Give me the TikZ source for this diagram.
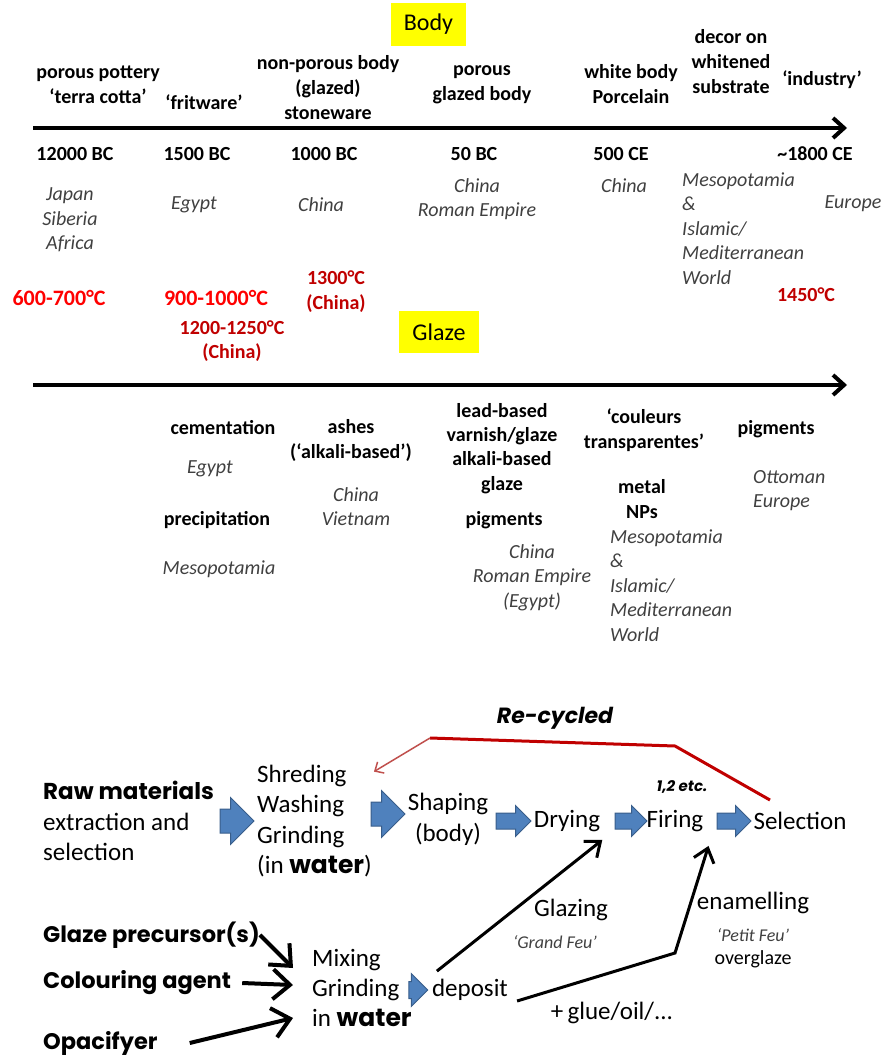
\documentclass[tikz,border=0pt]{standalone}
\usepackage{fontspec}
\setmainfont{Carlito}
\newfontfamily\hand{Poppins}
\usetikzlibrary{arrows.meta,shapes.arrows,positioning,calc}
\definecolor{hdryellow}{HTML}{FFFF00}
\definecolor{tempred}{HTML}{FF0000}
\definecolor{darkred}{HTML}{C00000}
\definecolor{placegray}{HTML}{404040}
\definecolor{arrowblue}{HTML}{4F81BD}
\definecolor{arrowedge}{HTML}{385D8A}
\definecolor{cyclered}{HTML}{C0504D}

\begin{document}
\begin{tikzpicture}[x=1pt,y=-1pt,inner sep=0,
    hdr/.style={fill=hdryellow,minimum width=75,minimum height=43,font=\fontsize{24}{28}\selectfont},
    era/.style={font=\fontsize{20}{25}\selectfont\bfseries,align=center},
    date/.style={font=\fontsize{20}{25}\selectfont\bfseries},
    place/.style={font=\fontsize{20}{24.5}\selectfont\itshape,text=placegray,align=center},
    temp/.style={font=\fontsize{22}{25}\selectfont\bfseries,text=tempred,align=center},
    tempcn/.style={font=\fontsize{20}{24.5}\selectfont\bfseries,text=darkred,align=center},
    stage/.style={font=\fontsize{25}{30.5}\selectfont,align=left},
    handlabel/.style={font=\fontsize{22.5}{24}\selectfont\hand\bfseries},
    note/.style={font=\fontsize{18}{22}\selectfont\itshape,text=placegray},
    timeline/.style={line width=4,-{Straight Barb[length=11pt,width=20pt]}},
    feed/.style={line width=4,-{Straight Barb[length=17pt,width=30pt]}},
    glazeline/.style={line width=3,-{Straight Barb[length=13pt,width=21pt]}},
    blockarrow/.style={single arrow,draw=arrowedge,line width=1,fill=arrowblue,
                       inner xsep=0,single arrow head indent=0}]

  \useasboundingbox (0,0) rectangle (884,1059);

  % Body
  \node[hdr] (body) at (428.5,24.5) {Body};
  \coordinate (bodystart) at (33,128);
  \coordinate (bodyend) at (847,128);
  \draw[timeline] (bodystart) -- (bodyend);

  \node[era] (terracotta) at (98,84.5) {porous pottery\\‘terra cotta’};
  \node[era] (fritware) at (204,102) {‘fritware’};
  \node[era] (stoneware) at (328,88) {non-porous body\\(glazed)\\stoneware};
  \node[era] (glazedbody) at (482,84.5) {porous\\glazed body};
  \node[era] (porcelain) at (631,84.5) {white body\\Porcelain};
  \node[era] (decor) at (731,62) {decor on\\whitened\\substrate};
  \node[era] (industry) at (822,80) {‘industry’};

  \node[date] (bc12000) at (75,154) {12000 BC};
  \node[date] (bc1500) at (197,154) {1500 BC};
  \node[date] (bc1000) at (324,154) {1000 BC};
  \node[date] (bc50) at (474,154) {50 BC};
  \node[date] (ce500) at (621,154) {500 CE};
  \node[date] (ce1800) at (815,154) {\textasciitilde1800 CE};

  \node[place] (japan) at (70,220) {Japan\\Siberia\\Africa};
  \node[place] (egyptbody) at (194,205) {Egypt};
  \node[place] (chinabody) at (321,205) {China};
  \node[place] (roman) at (477,199) {China\\Roman Empire};
  \node[place] (chinaporc) at (624,186) {China};
  \node[place,align=left,anchor=west] (mesobody) at (682,228.5) {Mesopotamia\\\&\\Islamic/\\Mediterranean\\World};
  \node[place] (europebody) at (853,204) {Europe};

  \node[temp] (t600) at (59,298) {600-700°C};
  \node[temp] (t900) at (216,298) {900-1000°C};
  \node[tempcn] (t1200) at (232,341) {1200-1250°C\\(China)};
  \node[tempcn] (t1300) at (336,291.5) {1300°C\\(China)};
  \node[tempcn] (t1450) at (806,295) {1450°C};

  % Glaze
  \node[hdr,minimum width=80,minimum height=42] (glaze) at (439,332) {Glaze};
  \coordinate (glazestart) at (33,385);
  \coordinate (glazeend) at (847,385);
  \draw[timeline] (glazestart) -- (glazeend);

  \node[era] (cement) at (223,428) {cementation};
  \node[place] (egyptglaze) at (210,469) {Egypt};
  \node[era] (precip) at (217,520) {precipitation};
  \node[place] (mesoprecip) at (219,569) {Mesopotamia};
  \node[era] (ashes) at (351,440.5) {ashes\\(‘alkali-based’)};
  \node[place] (vietnam) at (356,506.5) {China\\Vietnam};
  \node[era,font=\fontsize{20}{24.3}\selectfont\bfseries] (lead) at (502,448.5) {lead-based\\varnish/glaze\\alkali-based\\glaze};
  \node[era] (pigearly) at (504,520) {pigments};
  \node[place] (romanglaze) at (532,577.5) {China\\Roman Empire\\(Egypt)};
  \node[era] (couleurs) at (644,430.5) {‘couleurs\\transparentes’};
  \node[era] (metal) at (642,499.5) {metal\\NPs};
  \node[place,align=left,anchor=west] (mesoglaze) at (610,585.5) {Mesopotamia\\\&\\Islamic/\\Mediterranean\\World};
  \node[era] (piglate) at (776,429) {pigments};
  \node[place,align=left,anchor=west] (ottoman) at (753,490.5) {Ottoman\\Europe};

  % process
  \node[handlabel,font=\fontsize{22}{24}\selectfont\hand\bfseries\itshape] (recycled) at (555,718) {Re-cycled};
  \node[stage,anchor=west] (raw) at (43,821) {{\hand\bfseries\fontsize{23}{24}\selectfont Raw materials}\\extraction and\\selection};
  \node[stage,anchor=west] (shred) at (257,821) {Shreding\\Washing\\Grinding\\(in {\hand\bfseries water})};
  \node[stage,align=center] (shaping) at (448,819.5) {Shaping\\(body)};
  \node[stage] (drying) at (567,821) {Drying};
  \node[stage] (firing) at (675,821) {Firing};
  \node[font=\fontsize{15}{18}\selectfont\hand\bfseries\itshape] (firings) at (682,787) {1,2 etc.};
  \node[stage] (selection) at (800,821) {Selection};

  \node[blockarrow,minimum height=34,inner ysep=11.5,single arrow head extend=11.5] (ba1) at (231,821) {};
  \node[blockarrow,minimum height=34,inner ysep=11.5,single arrow head extend=11.5] (ba2) at (382,814) {};
  \node[blockarrow,minimum height=35,inner ysep=7.5,single arrow head extend=7.5] (ba3) at (509.5,821) {};
  \node[blockarrow,minimum height=32,inner ysep=7.5,single arrow head extend=7.5] (ba4) at (627,821) {};
  \node[blockarrow,minimum height=34,inner ysep=7.5,single arrow head extend=7.5] (ba5) at (730,821) {};

  \coordinate (rc1) at (675,746);
  \coordinate (rc2) at (430,738);
  \draw[darkred,line width=3] ([shift={(-30,-12)}]selection.north) -- (rc1) -- (rc2);
  \draw[cyclered,line width=1.5,-{Straight Barb[length=7pt,width=13pt]}] (rc2) -- ([shift={(2,7)}]shred.north east);

  \node[handlabel,anchor=west] (precursor) at (43,935) {Glaze precursor(s)};
  \node[handlabel,anchor=west] (colouring) at (43,983) {Colouring agent};
  \node[handlabel,anchor=west] (opacifyer) at (43,1043) {Opacifyer};
  \node[stage,font=\fontsize{25}{30}\selectfont,anchor=west] (mixing) at (312,988) {Mixing\\Grinding\\in {\hand\bfseries water}};
  \node[blockarrow,minimum height=19,inner ysep=8,single arrow head extend=8] (ba6) at (414,990) {};
  \node[stage] (deposit) at (470,990) {deposit};

  \draw[feed] (precursor.east) -- ([shift={(-19,-20)}]mixing.west);
  \draw[feed] ([xshift=11]colouring.east) -- ([shift={(-19,-3)}]mixing.west);
  \draw[feed] ([xshift=32]opacifyer.east) -- ([shift={(-19,30)}]mixing.west);

  \coordinate (kink) at (675,953);
  \draw[glazeline] ([shift={(5,-8)}]deposit.north west) -- ([shift={(2,8)}]drying.south east);
  \draw[glazeline] ([shift={(9,11)}]deposit.east) -- (kink) -- ([shift={(5,14)}]firing.south east);

  \node[stage] (glazing) at (571,910) {Glazing};
  \node[note] (grandfeu) at (555,942) {‘Grand Feu’};
  \node[stage] (enamel) at (753,903) {enamelling};
  \node[note] (petitfeu) at (753,935) {‘Petit Feu’};
  \node[font=\fontsize{20}{24}\selectfont] (overglaze) at (753,959) {overglaze};
  \node[stage] (glue) at (612,1013) {+\,glue/oil/...};
\end{tikzpicture}
\end{document}
